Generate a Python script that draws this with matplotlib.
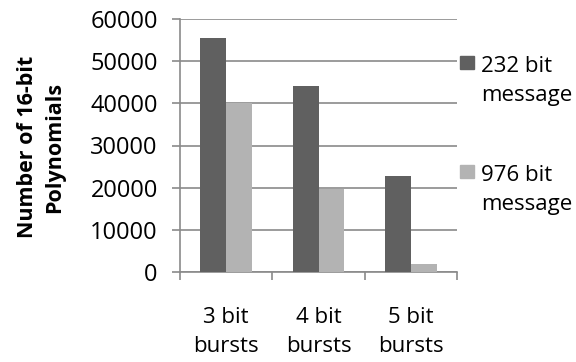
import numpy as np
import matplotlib.pyplot as plt
from matplotlib.patches import Rectangle

categories = ['3 bit\nbursts', '4 bit\nbursts', '5 bit\nbursts']
series_names = ['232 bit\nmessage', '976 bit\nmessage']
msg_232 = [55400, 44100, 22700]
msg_976 = [40000, 19700, 1800]
colors = ['#606060', '#b3b3b3']
yticks = [0, 10000, 20000, 30000, 40000, 50000, 60000]

plt.rcParams['font.family'] = ['Open Sans', 'DejaVu Sans']
grid_col = '#8a8a8a'
fs = 16

fig = plt.figure(figsize=(5.76, 3.62), dpi=100)
ax = fig.add_axes([180 / 576, 1 - 272 / 362, 277 / 576, 253 / 362])

x = np.arange(len(categories))
w = 0.28
ax.bar(x - w / 2, msg_232, width=w, color=colors[0], zorder=3)
ax.bar(x + w / 2, msg_976, width=w, color=colors[1], zorder=3)

ax.set_xlim(-0.5, len(categories) - 0.5)
ax.set_ylim(0, 60000)
ax.set_yticks(yticks)
ax.set_yticklabels([str(v) for v in yticks], fontsize=17)
ax.yaxis.grid(True, color=grid_col, linewidth=1.2, zorder=0)
ax.set_axisbelow(True)

# category labels between boundary ticks
ax.set_xticks(np.arange(len(categories) + 1) - 0.5)
ax.set_xticklabels([])
ax.set_xticks(x, minor=True)
ax.set_xticklabels(categories, minor=True, fontsize=fs, linespacing=1.5)
ax.tick_params(axis='x', which='minor', length=0, pad=25)
ax.tick_params(axis='x', which='major', length=6, color=grid_col, width=1.2)
ax.tick_params(axis='y', length=6, color=grid_col, width=1.2, pad=10)

for s in ['top', 'right']:
    ax.spines[s].set_visible(False)
for s in ['left', 'bottom']:
    ax.spines[s].set_color(grid_col)
    ax.spines[s].set_linewidth(1.2)

fig.text(41 / 576, 1 - 147 / 362, 'Number of 16-bit\nPolynomials', rotation=90,
         ha='center', va='center', fontsize=15.5, fontweight='bold', linespacing=1.4)

# legend
leg_y = [63, 172]
for name, col, yy in zip(series_names, colors, leg_y):
    fig.patches.append(Rectangle((460 / 576, 1 - (yy + 6) / 362), 14 / 576, 13 / 362,
                                 transform=fig.transFigure, color=col))
    fig.text(481 / 576, 1 - (yy + 18) / 362, name, ha='left', va='center',
             fontsize=fs, linespacing=1.55)

fig.savefig('out.png', dpi=100)
